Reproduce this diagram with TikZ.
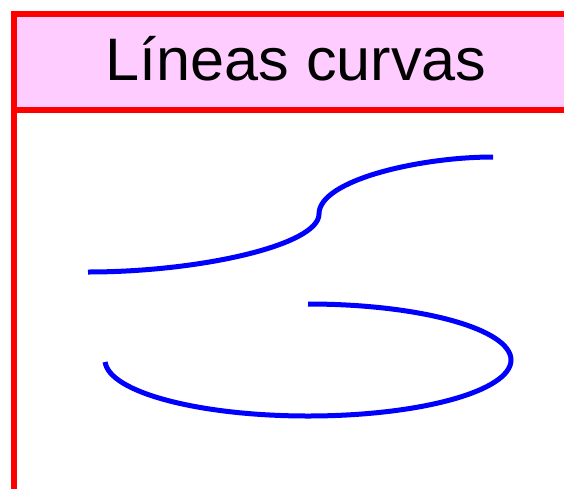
\documentclass[tikz,border=0pt]{standalone}
\usepackage{fontspec}
\setmainfont{Liberation Sans}
\definecolor{headpink}{RGB}{255,204,255}
\begin{document}
\begin{tikzpicture}[x=1pt,y=-1pt,
  frame/.style={draw=red,line width=6pt},
  curve/.style={draw=blue,line width=5pt},
  title/.style={inner sep=0pt,anchor=base,xscale=1.02,font=\fontsize{60}{60}\selectfont}]
\useasboundingbox (0,0) rectangle (564,488);
\begin{scope}
\clip (0,0) rectangle (564,488);
\fill[headpink] (14,14) rectangle (580,110);
\draw[frame] (14,110) -- (580,110);
\draw[frame] (14,14) rectangle (580,491.5);
\end{scope}
\node[title] (t) at (296,80.7) {Líneas curvas};
\coordinate (a) at (88,272);
\coordinate (b) at (319,214);
\coordinate (c) at (493,157);
\draw[curve] (a) .. controls (200,272) and (319,245) .. (b)
  .. controls (319,180) and (420,157) .. (c);
\coordinate (e) at (308,304);
\draw[curve] (e) arc[start angle=-90,end angle=178,x radius=203,y radius=56];
\end{tikzpicture}
\end{document}
